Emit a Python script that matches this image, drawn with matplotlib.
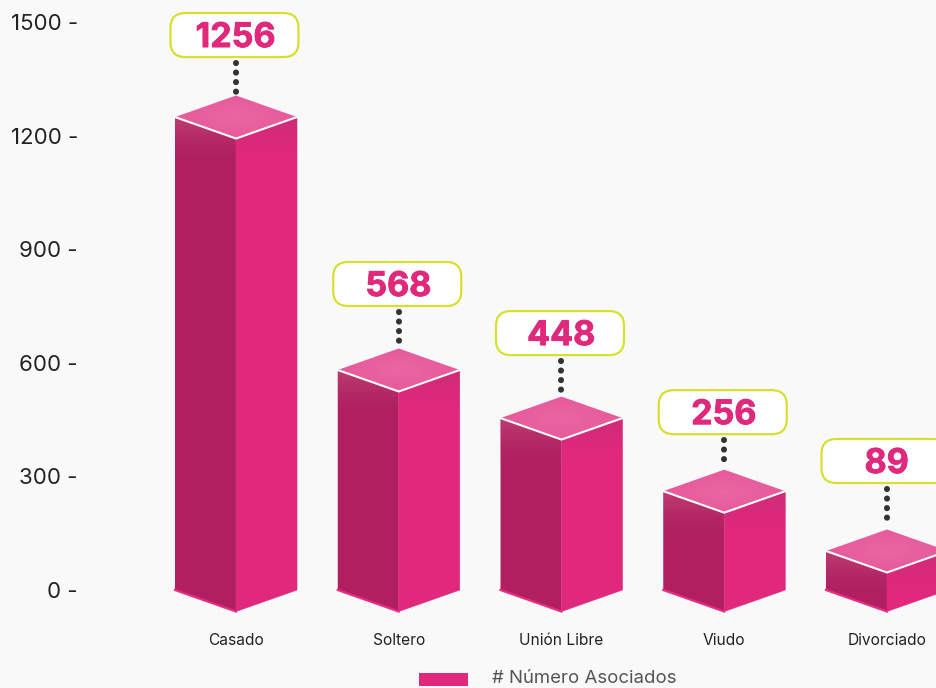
"""Pseudo-3D bar chart of asociados by estado civil."""

import matplotlib

matplotlib.use("Agg")
import matplotlib.patheffects as pe  # noqa: E402
import matplotlib.pyplot as plt  # noqa: E402
import numpy as np  # noqa: E402
from matplotlib.patches import FancyBboxPatch, Patch, Polygon  # noqa: E402

categories = ["Casado", "Soltero", "Unión Libre", "Viudo", "Divorciado"]
values = [1256, 568, 448, 256, 89]
# height of the drawn columns as read against the axis (the labels are the exact numbers)
heights = [1249, 581, 454, 261, 103]
label_gaps_px = [60, 64, 63, 57, 68]
yticks = [0, 300, 600, 900, 1200, 1500]
legend_label = "# Número Asociados"

BG = "#f9f9f9"
LEFT = "#b02060"
RIGHT = "#e0287c"
TOP = "#e75a9b"
STRIP = "#e82c82"
PILL = "#d6e02f"
FONT = "Inter"

W, H = 937, 688
PX_X = 162.75  # px per category
PX_Y = 568 / 1500  # px per unit
AX_LEFT, AX_BOTTOM = 80, 625
HALF_W = 61 / PX_X
DY = 21.5 / PX_Y


def gradient(ax, poly, extent, rgb, start):
    """Vertical alpha gradient, clipped to one face of a column."""
    img = np.zeros((48, 1, 4))
    img[..., :3] = rgb
    img[:, 0, 3] = start * np.linspace(1, 0, 48) ** 1.5
    im = ax.imshow(img, extent=extent, aspect="auto", interpolation="bilinear", zorder=3)
    im.set_clip_path(poly)


fig = plt.figure(figsize=(W / 100, H / 100), dpi=100, facecolor=BG)
ax = fig.add_axes([AX_LEFT / W, (H - AX_BOTTOM) / H, (W - AX_LEFT) / W, AX_BOTTOM / H])
ax.set_facecolor(BG)
for spine in ax.spines.values():
    spine.set_visible(False)

for i, (h, v, gap) in enumerate(zip(heights, values, label_gaps_px)):
    l, r = i - HALF_W, i + HALF_W
    left = Polygon([(l, h), (i, h - DY), (i, -DY), (l, 0)], fc=LEFT, ec="none", zorder=2, clip_on=False)
    right = Polygon([(i, h - DY), (r, h), (r, 0), (i, -DY)], fc=RIGHT, ec=RIGHT, lw=0.4, zorder=2, clip_on=False)
    top = Polygon([(l, h), (i, h + DY), (r, h), (i, h - DY)], fc=TOP, ec="none", zorder=4, clip_on=False)
    for p in (left, right, top):
        ax.add_patch(p)

    # shading under the top edges
    fade = DY + 22 / PX_Y
    gradient(ax, left, (l, i, h - fade, h), (0.85, 0.5, 0.6), 0.32)
    gradient(ax, right, (i, r, h - fade, h), (0.55, 0.25, 0.4), 0.22)

    # lighter middle on the top face
    xx, yy = np.meshgrid(np.linspace(-1, 1, 40), np.linspace(-1, 1, 40))
    glow = np.ones((40, 40, 4))
    glow[..., 3] = 0.08 * np.clip(1 - np.hypot(xx, yy), 0, 1)
    im = ax.imshow(glow, extent=(l, r, h - DY, h + DY), aspect="auto", zorder=5)
    im.set_clip_path(top)

    ax.plot([l, i, r], [h, h - DY, h], color="white", lw=1.5, zorder=6, clip_on=False)
    ax.plot([l, i], [0, -DY], color=STRIP, lw=1.6, zorder=6, clip_on=False)

    # value pill and dotted leader
    apex = h + DY
    cy = apex + (gap + 0.5) / PX_Y
    cx = i - 1.5 / PX_X
    pw, ph = 64 / PX_X, 22 / PX_Y
    ax.plot([i, i], [cy - ph - 6 / PX_Y, apex + 2 / PX_Y], color="#333333", lw=4.4,
            ls=(0, (0.01, 1.55)), dash_capstyle="round", zorder=3, clip_on=False)
    ax.add_patch(FancyBboxPatch((cx - pw, cy - ph), 2 * pw, 2 * ph,
                                boxstyle=f"round,pad=0,rounding_size={15 / PX_X}",
                                mutation_aspect=PX_X / PX_Y, fc="white", ec=PILL, lw=1.6,
                                zorder=7, clip_on=False))
    ax.text(cx + 1 / PX_X, cy + 0.5 / PX_Y, str(v), ha="center", va="center_baseline", color=RIGHT, fontsize=24.5,
            fontweight="bold", family=FONT, zorder=8,
            path_effects=[pe.withStroke(linewidth=0.6, foreground=RIGHT)])

ax.set_xlim((AX_LEFT - 236) / PX_X, (W - 236) / PX_X)
ax.set_ylim((590 - AX_BOTTOM) / PX_Y, 590 / PX_Y)

ax.set_yticks(yticks, [f"{t} -" for t in yticks], family=FONT, fontsize=16, color="#222222")
ax.set_xticks(range(len(categories)), categories, family=FONT, fontsize=11.2, color="#222222")
ax.tick_params(axis="y", length=0, pad=1.5)
ax.tick_params(axis="x", length=0, pad=6)

leg = ax.legend(handles=[Patch(fc=RIGHT, ec="none", label=legend_label)], loc="center",
                bbox_to_anchor=(548 / W, (H - 678) / H), bbox_transform=fig.transFigure, frameon=False,
                handlelength=2.63, handleheight=0.7, handletextpad=1.3, borderpad=0, borderaxespad=0,
                prop={"family": FONT, "size": 13.4}, labelcolor="#555555")
handle = leg.get_patches()[0]
handle.set_y(handle.get_y() - 2.5)

fig.savefig("out.png", dpi=100, facecolor=BG)
plt.close(fig)
